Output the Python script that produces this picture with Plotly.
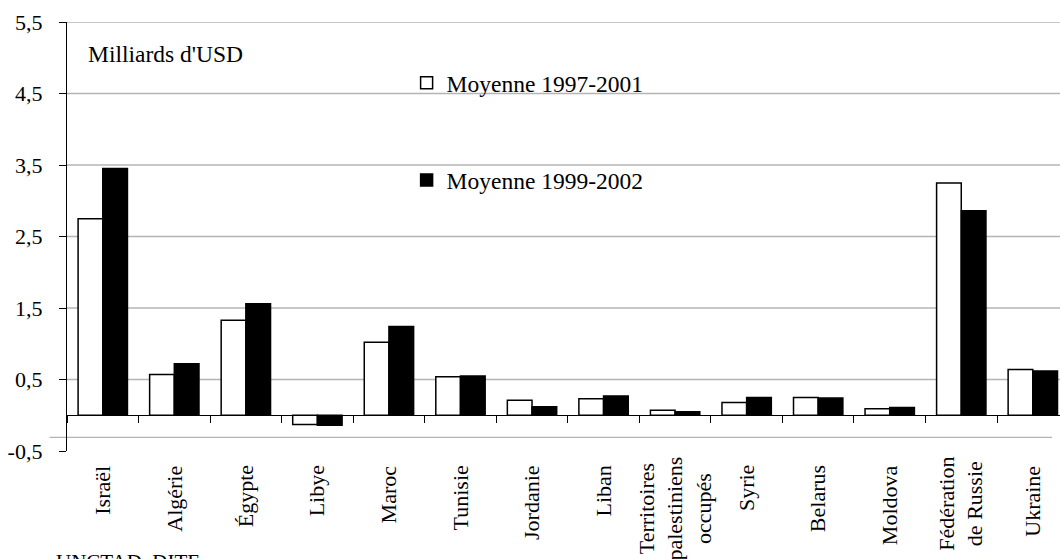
import plotly.graph_objects as go

# Data (milliards d'USD)
categories = [
    "Israël", "Algérie", "Égypte", "Libye", "Maroc", "Tunisie", "Jordanie",
    "Liban", "Territoires<br>palestiniens<br>occupés", "Syrie", "Belarus",
    "Moldova", "Fédération<br>de Russie", "Ukraine",
]
avg_1997_2001 = [2.75, 0.57, 1.33, -0.13, 1.02, 0.54, 0.21, 0.23, 0.07, 0.18, 0.25, 0.09, 3.25, 0.64]
avg_1999_2002 = [3.45, 0.72, 1.56, -0.14, 1.24, 0.55, 0.12, 0.27, 0.05, 0.25, 0.24, 0.11, 2.86, 0.62]
series_names = ["Moyenne 1997-2001", "Moyenne 1999-2002"]

y_tick_values = [-0.5, 0.5, 1.5, 2.5, 3.5, 4.5, 5.5]
y_tick_labels = ["-0,5", "0,5", "1,5", "2,5", "3,5", "4,5", "5,5"]
gridline_values = [0.5, 1.5, 2.5, 3.5, 4.5, 5.5]

SERIF = "Liberation Serif"
GRID = "#b4b4b4"

fig = go.Figure()
fig.add_trace(go.Bar(
    x=categories, y=avg_1997_2001, name=series_names[0],
    marker=dict(color="white", line=dict(color="black", width=1.5)),
    legend="legend",
))
fig.add_trace(go.Bar(
    x=categories, y=avg_1999_2002, name=series_names[1],
    marker=dict(color="black", line=dict(color="black", width=1.5)),
    legend="legend2",
))
# carrier for the category axis drawn at y = 0
fig.add_trace(go.Scatter(
    x=categories, y=[0] * len(categories), mode="markers",
    marker=dict(opacity=0), showlegend=False, hoverinfo="skip", xaxis="x2",
))

shapes = [
    dict(type="line", xref="paper", x0=0, x1=1, yref="y", y0=v, y1=v,
         line=dict(color=GRID, width=1.4), layer="below")
    for v in gridline_values
]
shapes.append(dict(type="line", xref="paper", x0=-0.0176, x1=0.992, yref="y",
                   y0=-0.31, y1=-0.31, line=dict(color=GRID, width=1.4), layer="below"))

# rotated category labels below the plot; multi-line blocks sit a little higher,
# with their lines centred
category_labels = [
    dict(text=c, x=c, xref="x", y=(-0.008 if "<br>" in c else -0.029), yref="paper",
         xanchor="center", yanchor="top", textangle=-90, align="center",
         showarrow=False, font=dict(family=SERIF, size=22, color="black"))
    for c in categories
]

fig.update_layout(
    width=1060, height=559,
    margin=dict(l=67, r=0, t=22, b=108),
    paper_bgcolor="white", plot_bgcolor="rgba(0,0,0,0)",
    barmode="group", bargap=0.31, bargroupgap=0,
    font=dict(family=SERIF, size=22, color="black"),
    xaxis=dict(
        type="category", range=[-0.5, 13.38], showline=False, ticks="",
        showgrid=False, zeroline=False, showticklabels=False, automargin=False,
    ),
    xaxis2=dict(
        type="category", overlaying="x", matches="x", anchor="free",
        position=0.5 / 6, side="bottom", showline=True, linecolor="black",
        linewidth=1.3, ticks="outside", ticklen=7, tickwidth=1.3,
        tickcolor="black", tickson="boundaries", showticklabels=False,
        showgrid=False, zeroline=False, automargin=False,
    ),
    yaxis=dict(
        range=[-0.5, 5.5], tickvals=y_tick_values, ticktext=y_tick_labels,
        showline=True, linecolor="black", linewidth=1.3, ticks="outside",
        ticklen=7, tickwidth=1.3, tickcolor="black", showgrid=False,
        zeroline=False, ticklabelstandoff=12, automargin=False,
        tickfont=dict(family=SERIF, size=22, color="black"),
    ),
    legend=dict(x=0.342, y=0.858, xanchor="left", yanchor="middle",
                bgcolor="rgba(0,0,0,0)", font=dict(family=SERIF, size=23.5, color="black")),
    legend2=dict(x=0.342, y=0.631, xanchor="left", yanchor="middle",
                 bgcolor="rgba(0,0,0,0)", font=dict(family=SERIF, size=23.5, color="black")),
    shapes=shapes,
    annotations=category_labels + [
        dict(text="Milliards d'USD", xref="paper", yref="paper", x=0.0196, y=0.925,
             xanchor="left", yanchor="middle", showarrow=False,
             font=dict(family=SERIF, size=23.5, color="black")),
        dict(text="UNCTAD, DITE", xref="paper", yref="paper", x=-0.0126, y=-0.227,
             xanchor="left", yanchor="top", showarrow=False,
             font=dict(family=SERIF, size=21, color="black")),
    ],
)

fig.write_html("out.html")
